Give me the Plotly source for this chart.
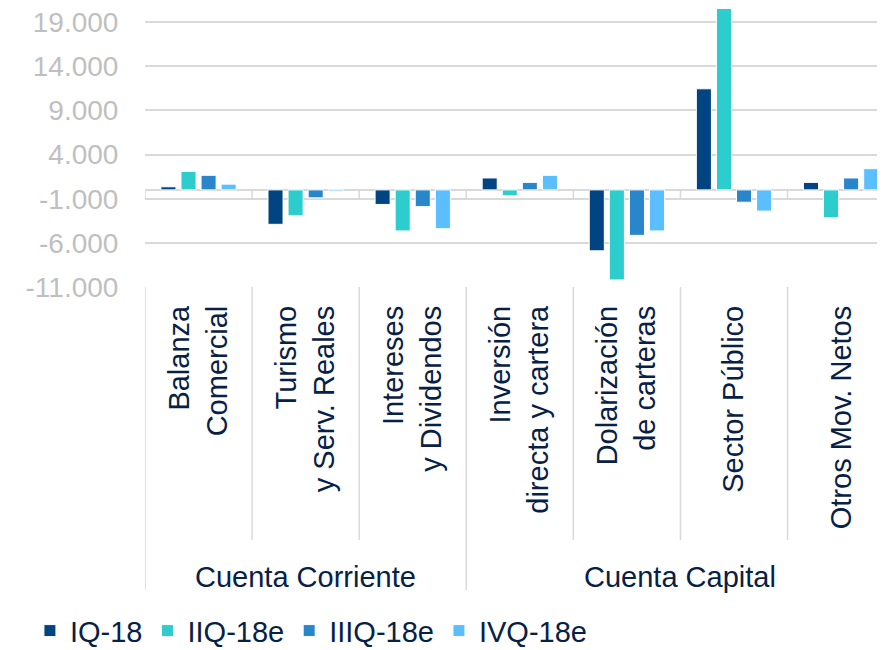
import plotly.graph_objects as go

# data
categories = [
    "Balanza<br>Comercial",
    "Turismo<br>y Serv. Reales",
    "Intereses<br>y Dividendos",
    "Inversión<br>directa y cartera",
    "Dolarización<br>de carteras",
    "Sector Público",
    "Otros Mov. Netos",
]
groups = ["Cuenta Corriente", "Cuenta Capital"]
group_sizes = [3, 4]

series_names = ["IQ-18", "IIQ-18e", "IIIQ-18e", "IVQ-18e"]
iq_18 = [350, -3900, -1650, 1350, -6900, 11450, 850]
iiq_18e = [2100, -2900, -4650, -650, -10200, 20550, -3150]
iiiq_18e = [1650, -900, -1900, 850, -5150, -1400, 1350]
ivq_18e = [650, -150, -4400, 1650, -4650, -2400, 2400]

y_ticks = list(range(-11000, 20000, 5000))
y_ticktext = [f"{v:,}".replace(",", ".") for v in y_ticks]

colors = ["#004481", "#2DCCCD", "#2A86CA", "#5BBEFF"]
grid = "#D9D9D9"
navy = "#072146"
font = "Liberation Sans, Arial, sans-serif"

# the page adds an 8px body margin, so the figure is a bit smaller than the window
W, H = 877, 642
ml, mt, mb = 137, 0, 363
plot_h = H - mt - mb

fig = go.Figure()
for name, vals, col in zip(series_names, [iq_18, iiq_18e, iiiq_18e, ivq_18e], colors):
    fig.add_trace(go.Bar(
        x=categories, y=vals, name=name,
        marker=dict(color=col, line=dict(color="white", width=1)),
    ))

def px_to_paper(py):
    # py: pixel offset below the plot bottom
    return -py / plot_h

shapes = []
# small ticks on the zero line between categories
for i in range(len(categories) + 1):
    b = i - 0.5
    shapes.append(dict(type="line", xref="x", yref="y", x0=b, x1=b, y0=0, y1=-1000,
                       line=dict(color=grid, width=1.5)))
# dividers under the category labels
starts = [sum(group_sizes[:k]) for k in range(len(group_sizes) + 1)]
for i in range(len(categories) + 1):
    b = i - 0.5
    depth = 303 if i in starts else 253
    shapes.append(dict(type="line", xref="x", yref="paper", x0=b, x1=b, y0=0, y1=px_to_paper(depth),
                       line=dict(color=grid, width=1.5)))

annotations = []
for k, g in enumerate(groups):
    center = starts[k] + (group_sizes[k] - 1) / 2
    annotations.append(dict(text=g, xref="x", yref="paper", x=center, y=px_to_paper(290),
                            showarrow=False, yanchor="middle",
                            font=dict(family=font, size=29, color=navy)))

fig.update_layout(
    width=W, height=H,
    margin=dict(l=ml, r=0, t=mt, b=mb),
    plot_bgcolor="white", paper_bgcolor="white",
    barmode="group", bargap=0.25, bargroupgap=0.25,
    shapes=shapes, annotations=annotations,
    legend=dict(orientation="h", xref="container", yref="container",
                x=0.025, y=0.03, xanchor="left", yanchor="middle",
                font=dict(family=font, size=29, color=navy), itemwidth=30),
    xaxis=dict(type="category", range=[-0.5, len(categories) - 0.59], automargin=False,
               tickangle=-90, showgrid=False, showline=False, zeroline=False,
               ticks="", ticklabelstandoff=12,
               tickfont=dict(family=font, size=29, color=navy)),
    yaxis=dict(range=[-11000, 20600], tickvals=y_ticks, ticktext=y_ticktext, automargin=False,
               ticklabeloverflow="allow",
               showgrid=True, gridcolor=grid, gridwidth=1.5,
               zeroline=True, zerolinecolor=grid, zerolinewidth=2,
               showline=False, ticks="outside", ticklen=20, tickcolor="rgba(0,0,0,0)",
               tickfont=dict(family=font, size=28, color="#BFBFBF")),
)

fig.write_html("out.html")
